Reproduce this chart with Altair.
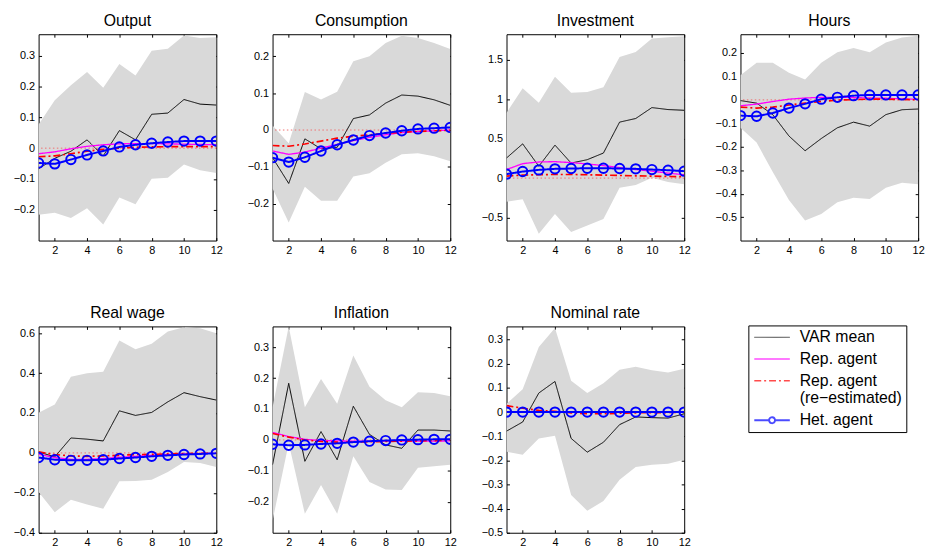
import altair as alt
import pandas as pd

# ---------------- data ----------------
steps = list(range(1, 13))
x_ticks = [2, 4, 6, 8, 10, 12]

panel_names = ["Output", "Consumption", "Investment", "Hours",
               "Real wage", "Inflation", "Nominal rate"]

var_mean = [
    [-0.067, -0.033, -0.010, 0.027, -0.025, 0.057, 0.027, 0.110, 0.114, 0.158, 0.143, 0.140],
    [-0.075, -0.145, -0.024, -0.051, -0.047, 0.031, 0.041, 0.073, 0.095, 0.092, 0.082, 0.067],
    [0.254, 0.433, 0.150, 0.417, 0.190, 0.233, 0.317, 0.708, 0.754, 0.892, 0.867, 0.858],
    [-0.003, -0.014, -0.063, -0.154, -0.217, -0.165, -0.119, -0.095, -0.112, -0.063, -0.042, -0.039],
    [0.005, -0.020, 0.075, 0.069, 0.060, 0.211, 0.188, 0.203, 0.256, 0.302, 0.282, 0.265],
    [-0.080, 0.183, -0.069, 0.027, -0.064, 0.109, 0.018, -0.016, -0.027, 0.032, 0.032, 0.029],
    [-0.079, -0.041, 0.079, 0.127, -0.109, -0.166, -0.125, -0.052, -0.020, -0.023, -0.025, -0.007],
]
band_lo = [
    [-0.216, -0.210, -0.227, -0.195, -0.248, -0.160, -0.182, -0.099, -0.096, -0.053, -0.072, -0.081],
    [-0.159, -0.251, -0.154, -0.192, -0.192, -0.126, -0.117, -0.089, -0.066, -0.063, -0.071, -0.085],
    [-0.300, -0.267, -0.704, -0.454, -0.683, -0.600, -0.517, -0.121, -0.088, 0.004, -0.050, -0.079],
    [-0.119, -0.182, -0.308, -0.427, -0.515, -0.487, -0.437, -0.417, -0.423, -0.375, -0.354, -0.360],
    [-0.196, -0.297, -0.235, -0.258, -0.280, -0.142, -0.141, -0.134, -0.096, -0.045, -0.050, -0.070],
    [-0.261, -0.011, -0.239, -0.146, -0.239, -0.053, -0.136, -0.160, -0.162, -0.090, -0.085, -0.080],
    [-0.164, -0.177, -0.109, -0.098, -0.344, -0.409, -0.368, -0.280, -0.228, -0.218, -0.214, -0.198],
]
band_hi = [
    [0.077, 0.156, 0.204, 0.247, 0.196, 0.273, 0.236, 0.316, 0.323, 0.366, 0.358, 0.360],
    [0.012, -0.036, 0.103, 0.083, 0.104, 0.187, 0.200, 0.236, 0.256, 0.250, 0.236, 0.220],
    [0.825, 1.138, 0.954, 1.283, 1.079, 1.088, 1.150, 1.533, 1.596, 1.767, 1.783, 1.796],
    [0.105, 0.158, 0.158, 0.116, 0.087, 0.158, 0.203, 0.221, 0.203, 0.245, 0.266, 0.273],
    [0.201, 0.243, 0.382, 0.399, 0.407, 0.563, 0.520, 0.547, 0.609, 0.630, 0.625, 0.600],
    [0.106, 0.367, 0.106, 0.197, 0.117, 0.273, 0.172, 0.128, 0.106, 0.154, 0.152, 0.141],
    [0.034, 0.095, 0.270, 0.348, 0.130, 0.079, 0.120, 0.175, 0.188, 0.173, 0.164, 0.180],
]
rep_agent = [
    [-0.018, -0.012, -0.002, 0.006, 0.011, 0.014, 0.015, 0.015, 0.014, 0.013, 0.012, 0.011],
    [-0.057, -0.066, -0.060, -0.049, -0.039, -0.029, -0.020, -0.013, -0.007, -0.004, -0.002, 0.000],
    [0.108, 0.183, 0.204, 0.208, 0.196, 0.179, 0.158, 0.133, 0.108, 0.088, 0.063, 0.042],
    [-0.025, -0.018, -0.007, 0.003, 0.008, 0.011, 0.011, 0.010, 0.008, 0.007, 0.004, 0.003],
    [-0.007, -0.023, -0.032, -0.032, -0.028, -0.022, -0.017, -0.012, -0.008, -0.005, -0.003, -0.002],
    [0.024, 0.011, 0.002, -0.002, -0.003, -0.004, -0.004, -0.004, -0.004, -0.004, -0.004, -0.003],
    [0.002, 0.001, 0.000, 0.000, 0.000, 0.000, 0.000, 0.000, 0.000, 0.000, 0.000, 0.000],
]
rep_agent_re = [
    [-0.028, -0.025, -0.018, -0.010, -0.004, 0.000, 0.003, 0.004, 0.005, 0.005, 0.005, 0.005],
    [-0.042, -0.044, -0.038, -0.030, -0.022, -0.017, -0.013, -0.009, -0.006, -0.004, -0.002, -0.001],
    [0.025, 0.038, 0.042, 0.046, 0.046, 0.042, 0.038, 0.033, 0.029, 0.025, 0.021, 0.017],
    [-0.031, -0.035, -0.031, -0.022, -0.014, -0.007, -0.001, 0.001, 0.003, 0.003, 0.002, 0.000],
    [0.005, -0.008, -0.015, -0.017, -0.015, -0.012, -0.008, -0.007, -0.005, -0.003, -0.002, -0.002],
    [0.021, 0.009, 0.000, -0.005, -0.007, -0.007, -0.006, -0.005, -0.004, -0.003, -0.002, -0.001],
    [0.027, 0.016, 0.007, 0.003, -0.003, -0.007, -0.007, -0.005, -0.003, -0.002, -0.002, 0.000],
]
het_agent = [
    [-0.048, -0.051, -0.037, -0.022, -0.009, 0.004, 0.011, 0.016, 0.020, 0.023, 0.023, 0.023],
    [-0.075, -0.087, -0.074, -0.057, -0.040, -0.027, -0.015, -0.008, -0.002, 0.003, 0.005, 0.007],
    [0.050, 0.083, 0.104, 0.117, 0.121, 0.125, 0.125, 0.121, 0.117, 0.108, 0.100, 0.088],
    [-0.067, -0.070, -0.056, -0.035, -0.017, 0.003, 0.011, 0.018, 0.021, 0.021, 0.021, 0.021],
    [-0.023, -0.034, -0.037, -0.037, -0.034, -0.028, -0.023, -0.017, -0.012, -0.008, -0.005, -0.002],
    [-0.014, -0.017, -0.016, -0.013, -0.011, -0.007, -0.004, -0.002, 0.000, 0.001, 0.002, 0.002],
    [0.000, 0.000, 0.000, 0.000, 0.000, 0.000, 0.000, 0.000, 0.000, 0.000, 0.000, 0.000],
]

y_domains = [
    [-0.3, 0.37], [-0.3, 0.26], [-0.79, 1.82], [-0.6, 0.28],
    [-0.4, 0.634], [-0.3, 0.367], [-0.5, 0.355],
]
y_ticks = [
    [-0.2, -0.1, 0, 0.1, 0.2, 0.3],
    [-0.2, -0.1, 0, 0.1, 0.2],
    [-0.5, 0, 0.5, 1, 1.5],
    [-0.5, -0.4, -0.3, -0.2, -0.1, 0, 0.1, 0.2],
    [-0.4, -0.2, 0, 0.2, 0.4, 0.6],
    [-0.2, -0.1, 0, 0.1, 0.2, 0.3],
    [-0.5, -0.4, -0.3, -0.2, -0.1, 0, 0.1, 0.2, 0.3],
]

series_names = ["VAR mean", "Rep. agent", "Rep. agent (re-estimated)", "Het. agent"]

# ---------------- styles ----------------
FONT = "Liberation Sans"
series_colors = ["#000000", "#ff00ff", "#ff0000", "#0000ff"]
series_dash = [[1, 0], [1, 0], [7, 3, 2, 3], [1, 0]]
series_width = [1, 2, 2, 2]
legend_shapes = [
    "M-3,0H3", "M-3,0H3", "M-3,0H3",
    "M-3,0H-0.5M0.5,0H3M0.5,0A0.5,0.5,0,1,1,-0.5,0A0.5,0.5,0,1,1,0.5,0",
]
band_color = "#d9d9d9"
zero_color = "#f07070"

# ---------------- tables ----------------
band_rows, line_rows = [], []
all_series = [var_mean, rep_agent, rep_agent_re, het_agent]
for pi, p in enumerate(panel_names):
    for i, s in enumerate(steps):
        band_rows.append({"panel": p, "step": s, "lo": band_lo[pi][i], "hi": band_hi[pi][i]})
        for sname, arr in zip(series_names, all_series):
            line_rows.append({"panel": p, "step": s, "series": sname, "value": arr[pi][i]})
band_df = pd.DataFrame(band_rows)
line_df = pd.DataFrame(line_rows)
zero_df = pd.DataFrame({"zero": [0.0]})

color_scale = alt.Scale(domain=series_names, range=series_colors)
dash_scale = alt.Scale(domain=series_names, range=series_dash)
shape_scale = alt.Scale(domain=series_names, range=legend_shapes)
width_scale = alt.Scale(domain=series_names, range=series_width)

legend = alt.Legend(
    title=None, orient="none", legendX=719, legendY=295,
    symbolType="stroke", symbolSize=144,
    symbolOffset=12, labelOffset=20,
    labelFont=FONT, labelFontSize=16, labelColor="black", labelLimit=250,
    labelExpr="datum.label == 'Rep. agent (re-estimated)' ? ['Rep. agent', '(re\u2212estimated)'] : datum.label",
    strokeColor="black", fillColor="white", padding=4, rowPadding=6,
)

TICK = dict(tickColor="black", tickSize=3, domain=False, grid=False, offset=-3)


def make_panel(pi, with_legend_layer=False):
    name = panel_names[pi]
    ysc = alt.Scale(domain=y_domains[pi], nice=False, zero=False)
    xsc = alt.Scale(domain=[1, 12], nice=False, zero=False)

    x_bottom = alt.X("step:Q", scale=xsc, title=None,
                     axis=alt.Axis(values=x_ticks, format="d", labelFlush=False,
                                   labelOverlap=False, labelPadding=4, **TICK))
    x_top = alt.X("step:Q", scale=xsc, title=None,
                  axis=alt.Axis(orient="top", values=x_ticks, labels=False, **TICK))
    x_none = alt.X("step:Q", scale=xsc, title=None, axis=None)

    y_left = alt.Axis(values=y_ticks[pi], format="~g", labelOverlap=False,
                      labelFlush=False, labelPadding=4, **TICK)
    y_right = alt.Axis(orient="right", values=y_ticks[pi], labels=False, **TICK)

    band = alt.Chart(band_df).transform_filter(alt.datum.panel == name).mark_area(
        color=band_color, opacity=1, clip=True
    ).encode(x=x_bottom, y=alt.Y("lo:Q", scale=ysc, axis=y_left, title=None), y2="hi:Q")

    zero = alt.Chart(zero_df).mark_rule(
        color=zero_color, strokeDash=[1.5, 2.5], strokeWidth=1
    ).encode(y=alt.Y("zero:Q", scale=ysc, axis=y_right, title=None))

    layers = [band, zero]
    for k in range(4):
        ln = alt.Chart(line_df).transform_filter(
            (alt.datum.panel == name) & (alt.datum.series == series_names[k])
        ).mark_line(clip=True).encode(
            x=x_top if k == 0 else x_none,
            y=alt.Y("value:Q", scale=ysc, axis=None, title=None),
            color=alt.Color("series:N", scale=color_scale, legend=legend),
            strokeDash=alt.StrokeDash("series:N", scale=dash_scale, legend=legend),
            strokeWidth=alt.StrokeWidth("series:N", scale=width_scale, legend=legend),
        )
        layers.append(ln)

    pts = alt.Chart(line_df).transform_filter(
        (alt.datum.panel == name) & (alt.datum.series == "Het. agent")
    ).mark_point(shape="circle", filled=False, size=90, strokeWidth=2,
                 color="#0000ff", opacity=1, clip=True).encode(
        x=x_none, y=alt.Y("value:Q", scale=ysc, axis=None, title=None))
    layers.append(pts)

    if with_legend_layer:
        leg = alt.Chart(line_df).transform_filter("false").mark_point(filled=False).encode(
            x=x_none, y=alt.Y("value:Q", scale=ysc, axis=None, title=None),
            color=alt.Color("series:N", scale=color_scale, legend=legend),
            shape=alt.Shape("series:N", scale=shape_scale, legend=legend),
            strokeDash=alt.StrokeDash("series:N", scale=dash_scale, legend=legend),
            strokeWidth=alt.StrokeWidth("series:N", scale=width_scale, legend=legend),
        )
        layers.append(leg)

    return alt.layer(*layers).resolve_axis(x="independent", y="independent").properties(
        width=180, height=209, title=alt.TitleParams(text=name)
    )


panels = [make_panel(i, with_legend_layer=(i == 0)) for i in range(7)]

chart = alt.concat(
    *panels, columns=4, bounds="flush",
    spacing=alt.RowColnumber(row=87, column=57),
).properties(
    padding={"left": 4, "top": 1, "right": 5, "bottom": 5},
    background="white",
).configure_axis(
    labelFont=FONT, labelFontSize=11, labelColor="black",
).configure_view(
    stroke="black", strokeWidth=1,
).configure_title(
    font=FONT, fontSize=16, fontWeight="normal", color="black", offset=5,
)

chart.save("out.html", embed_options={"renderer": "svg", "actions": False})
